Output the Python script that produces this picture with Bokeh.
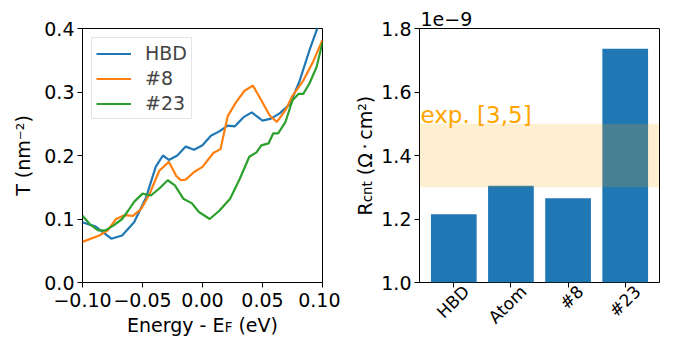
import numpy as np
from math import pi
from bokeh.plotting import figure
from bokeh.layouts import row
from bokeh.models import (Range1d, FixedTicker, CustomJSTickFormatter, Label,
                          BoxAnnotation, LinearAxis)
from bokeh.embed import file_html
from bokeh.resources import INLINE

FONT = "DejaVu Sans"
FS = "19px"
SUB = "13.3px"

# ---------------- data (left panel: transmission) ----------------
hbd_E = [-0.100, -0.089, -0.076, -0.067, -0.057, -0.047, -0.039, -0.033, -0.028,
         -0.021, -0.014, -0.007, 0.000, 0.007, 0.014, 0.021, 0.027, 0.034, 0.041,
         0.050, 0.057, 0.064, 0.073, 0.081, 0.089, 0.096, 0.098]
hbd_T = [0.095, 0.088, 0.069, 0.074, 0.095, 0.134, 0.182, 0.200, 0.193,
         0.200, 0.214, 0.209, 0.216, 0.231, 0.238, 0.247, 0.246, 0.260, 0.268,
         0.255, 0.258, 0.266, 0.281, 0.318, 0.365, 0.402, 0.415]

s8_E = [-0.100, -0.086, -0.079, -0.072, -0.065, -0.058, -0.051, -0.044, -0.036,
        -0.028, -0.022, -0.018, -0.014, -0.007, 0.000, 0.009, 0.015, 0.021, 0.028,
        0.035, 0.042, 0.049, 0.056, 0.062, 0.069, 0.075, 0.084, 0.092, 0.100]
s8_T = [0.064, 0.074, 0.082, 0.100, 0.106, 0.105, 0.116, 0.140, 0.176,
        0.190, 0.168, 0.161, 0.162, 0.174, 0.182, 0.204, 0.210, 0.262, 0.284,
        0.302, 0.310, 0.287, 0.263, 0.253, 0.271, 0.294, 0.318, 0.347, 0.382]

s23_E = [-0.100, -0.094, -0.087, -0.081, -0.074, -0.067, -0.062, -0.057, -0.050,
         -0.043, -0.036, -0.029, -0.023, -0.016, -0.009, -0.003, 0.006, 0.014,
         0.023, 0.031, 0.039, 0.045, 0.049, 0.055, 0.059, 0.063, 0.069, 0.075,
         0.080, 0.084, 0.089, 0.095, 0.100]
s23_T = [0.105, 0.092, 0.082, 0.082, 0.090, 0.100, 0.113, 0.127, 0.140,
         0.137, 0.148, 0.161, 0.153, 0.132, 0.125, 0.111, 0.100, 0.113,
         0.132, 0.163, 0.198, 0.205, 0.216, 0.219, 0.235, 0.235, 0.252, 0.287,
         0.297, 0.297, 0.313, 0.339, 0.378]

x_ticks_left = [-0.10, -0.05, 0.00, 0.05, 0.10]
y_ticks_left = [0.0, 0.1, 0.2, 0.3, 0.4]

# ---------------- data (right panel: contact resistance, units of 1e-9) ----------------
categories = ["HBD", "Atom", "#8", "#23"]
rcnt_e9 = [1.215, 1.305, 1.265, 1.736]
exp_low, exp_high = 1.3, 1.5
y_ticks_right = [1.0, 1.2, 1.4, 1.6, 1.8]

BLUE, ORANGE, GREEN = "#1f77b4", "#ff7f0e", "#2ca02c"


def style(p):
    p.grid.visible = False
    p.outline_line_color = "black"
    p.outline_line_width = 1
    p.background_fill_color = "white"
    p.border_fill_color = "white"
    for ax in p.axis:
        ax.axis_line_color = None
        ax.major_tick_line_color = "black"
        ax.major_tick_out = 5
        ax.major_tick_in = 0
        ax.minor_tick_line_color = None
        ax.major_label_text_font = FONT
        ax.major_label_text_font_size = FS
        ax.major_label_text_color = "black"
        ax.axis_label_text_font = FONT
        ax.axis_label_text_font_size = FS
        ax.axis_label_text_font_style = "normal"
        ax.axis_label_text_color = "black"


def lab(p, side, **kw):
    # Labels live in a side panel so that they are not clipped to the frame;
    # their position is still set by data anchor + pixel offset.
    kw.setdefault("text_font", FONT)
    kw.setdefault("text_font_size", FS)
    kw.setdefault("text_color", "black")
    kw.setdefault("text_align", "left")
    kw.setdefault("text_baseline", "alphabetic")
    p.add_layout(Label(**kw), side)


# ---------------- left figure ----------------
p1 = figure(width=340, height=338, x_range=Range1d(-0.1, 0.1), y_range=Range1d(0, 0.4),
            output_backend="svg", toolbar_location=None,
            min_border_left=82, min_border_right=18, min_border_top=28, min_border_bottom=56)
style(p1)
p1.line(hbd_E, hbd_T, color=BLUE, line_width=2.2, legend_label="HBD")
p1.line(s8_E, s8_T, color=ORANGE, line_width=2.2, legend_label="#8")
p1.line(s23_E, s23_T, color=GREEN, line_width=2.2, legend_label="#23")

p1.xaxis.ticker = FixedTicker(ticks=x_ticks_left)
p1.yaxis.ticker = FixedTicker(ticks=y_ticks_left)
p1.xaxis.formatter = CustomJSTickFormatter(code="return tick.toFixed(2).replace('-', '\u2212');")
p1.yaxis.formatter = CustomJSTickFormatter(code="return tick.toFixed(1);")
p1.yaxis.major_label_standoff = 3
p1.xaxis.major_label_standoff = 5
p1.yaxis.axis_label = "T (nm\u207b\u00b2)"
p1.yaxis.axis_label_standoff = 7

lg = p1.legend[0]
lg.location = "top_left"
lg.margin = 9
lg.padding = 4
lg.spacing = 3
lg.glyph_width = 35
lg.glyph_height = 21
lg.label_height = 21
lg.label_standoff = 14
lg.label_text_font = FONT
lg.label_text_font_size = FS
lg.border_line_color = "#cccccc"
lg.border_line_width = 1
lg.background_fill_alpha = 0.8

# x axis label "Energy - E_F (eV)"
xl_y_off = -42
lab(p1, "below", x=-0.1, y=0, x_offset=44.5, y_offset=xl_y_off, text="Energy - E")
lab(p1, "right", x=-0.1, y=0, x_offset=142.3, y_offset=xl_y_off - 3, text="F", text_font_size=SUB)
lab(p1, "above", x=-0.1, y=0, x_offset=149.9, y_offset=xl_y_off, text="\u00a0(eV)")

# ---------------- right figure ----------------
xpos = list(range(len(categories)))
p2 = figure(width=341, height=338, x_range=Range1d(-0.6, 3.6), y_range=Range1d(1.0, 1.8),
            output_backend="svg", toolbar_location=None, x_axis_location=None,
            min_border_left=79, min_border_right=21, min_border_top=28, min_border_bottom=56)

# category-label axis: labels are centred on the bars the way matplotlib centres
# rotated labels, so the axis range is shifted by half a label; the tick marks
# (minor ticks) sit exactly on the bar centres.
shift = 12.5 * 4.2 / 241
p2.extra_x_ranges = {"catlab": Range1d(-0.6 - shift, 3.6 - shift)}
cat_axis = LinearAxis(x_range_name="catlab",
                      ticker=FixedTicker(ticks=xpos, minor_ticks=[x - shift for x in xpos]),
                      major_label_overrides={i: c for i, c in zip(xpos, categories)})
p2.add_layout(cat_axis, "below")
style(p2)
cat_axis.major_tick_out = 0
cat_axis.major_tick_line_color = None
cat_axis.minor_tick_out = 5
cat_axis.minor_tick_in = 0
cat_axis.minor_tick_line_color = "black"
cat_axis.major_label_orientation = pi / 4
cat_axis.major_label_standoff = 1
cat_axis.major_label_text_font_size = "17px"

p2.vbar(x=xpos, top=rcnt_e9, bottom=0, width=0.8, fill_color=BLUE, line_color=None)
p2.add_layout(BoxAnnotation(bottom=exp_low, top=exp_high, fill_color="orange",
                            fill_alpha=0.18, line_color=None))
p2.yaxis.ticker = FixedTicker(ticks=y_ticks_right)
p2.yaxis.formatter = CustomJSTickFormatter(code="return tick.toFixed(1);")
p2.yaxis.major_label_standoff = 3

lab(p2, "above", x=-0.6, y=1.8, x_offset=1, y_offset=10, text="1e\u22129")
lab(p2, "center", x=-0.6, y=exp_high, x_offset=1, y_offset=8.5, text="exp. [3,5]",
    text_font_size="23px", text_color="orange")

# rotated y label: R_cnt (Ω · cm²)
yl_x = -55
lab(p2, "right", x=-0.6, y=1.4, x_offset=yl_x, y_offset=-60, text="R", angle=pi / 2)
lab(p2, "left", x=-0.6, y=1.4, x_offset=yl_x + 3, y_offset=-46.8, text="cnt", angle=pi / 2,
    text_font_size=SUB)
lab(p2, "left", x=-0.6, y=1.4, x_offset=yl_x, y_offset=-25.8,
    text="\u00a0(\u03a9\u2009\u00b7\u2009cm\u00b2)", angle=pi / 2)

layout = row(p1, p2)
open("out.html", "w").write(file_html(layout, INLINE))
